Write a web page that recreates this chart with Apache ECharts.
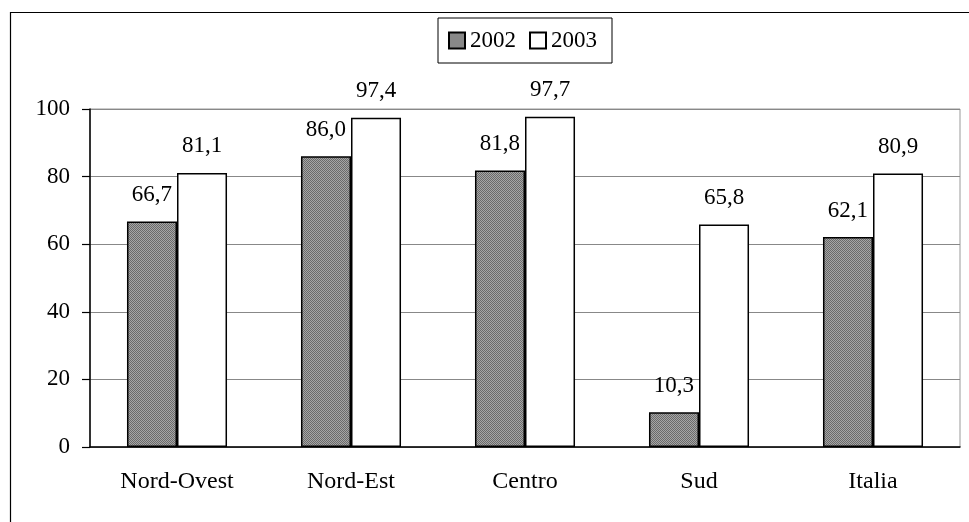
<!DOCTYPE html>
<html>
<head>
<meta charset="utf-8">
<script src="https://cdn.jsdelivr.net/npm/echarts@6/dist/echarts.min.js"></script>
<style>
html,body{margin:0;padding:0;background:#fff;}
#chart{width:969px;height:522px;}
</style>
</head>
<body>
<div id="chart"></div>
<script>
const categories = ['Nord-Ovest', 'Nord-Est', 'Centro', 'Sud', 'Italia'];
const seriesNames = ['2002', '2003'];
const values2002 = [66.7, 86.0, 81.8, 10.3, 62.1];
const values2003 = [81.1, 97.4, 97.7, 65.8, 80.9];
const yTicks = { min: 0, max: 100, interval: 20 };

// dotted grey pattern for 2002
const pc = document.createElement('canvas');
pc.width = 2; pc.height = 2;
const px = pc.getContext('2d');
px.fillStyle = '#a6a6a6'; px.fillRect(0, 0, 2, 2);
px.fillStyle = '#6a6a6a'; px.fillRect(0, 0, 1, 1); px.fillRect(1, 1, 1, 1);
const pattern = { image: pc, repeat: 'repeat' };

const FONT = 'Liberation Serif, Times New Roman, serif';
const fmt = p => p.value.toFixed(1).replace('.', ',');

const chart = echarts.init(document.getElementById('chart'), null, { renderer: 'canvas' });
chart.setOption({
  animation: false,
  backgroundColor: '#fff',
  textStyle: { fontFamily: FONT, color: '#000' },
  graphic: [{
    type: 'rect', z: -10, silent: true,
    shape: { x: 10.5, y: 12.5, width: 1200, height: 800 },
    style: { fill: 'none', stroke: '#000', lineWidth: 1.2 }
  }],
  legend: {
    left: 438, top: 18,
    padding: [11, 15, 11, 10],
    borderColor: '#000', borderWidth: 1,
    itemWidth: 16, itemHeight: 16, itemGap: 13,
    icon: 'rect',
    textStyle: { fontFamily: FONT, fontSize: 23, color: '#000' },
    data: seriesNames
  },
  grid: {
    left: 90, right: 9, top: 109, bottom: 75,
    show: true, borderColor: '#999', borderWidth: 1, backgroundColor: 'transparent'
  },
  xAxis: {
    type: 'category',
    data: categories,
    axisLine: { lineStyle: { color: '#000', width: 1.5 } },
    axisTick: { length: 8, lineStyle: { color: '#000', width: 1.2 } },
    axisLabel: { margin: 23, fontSize: 24, fontFamily: FONT, color: '#000' }
  },
  yAxis: {
    type: 'value',
    min: yTicks.min, max: yTicks.max, interval: yTicks.interval,
    axisLine: { show: true, lineStyle: { color: '#000', width: 1.5 } },
    axisTick: { show: true, length: 8, lineStyle: { color: '#000', width: 1.2 } },
    axisLabel: { margin: 20, fontSize: 23, fontFamily: FONT, color: '#000' },
    splitLine: { lineStyle: { color: '#888', width: 1 } }
  },
  series: [
    {
      name: seriesNames[0], type: 'bar', data: values2002,
      barGap: '0%', barCategoryGap: '42.5%',
      itemStyle: { color: pattern, borderColor: '#000', borderWidth: 1.5 },
      label: { show: true, position: 'top', distance: 15, formatter: fmt,
        fontSize: 23, fontFamily: FONT, color: '#000' }
    },
    {
      name: seriesNames[1], type: 'bar', data: values2003,
      barGap: '0%', barCategoryGap: '42.5%',
      itemStyle: { color: '#fff', borderColor: '#000', borderWidth: 1.5 },
      label: { show: true, position: 'top', distance: 15, formatter: fmt,
        fontSize: 23, fontFamily: FONT, color: '#000' }
    }
  ]
});
</script>
</body>
</html>
